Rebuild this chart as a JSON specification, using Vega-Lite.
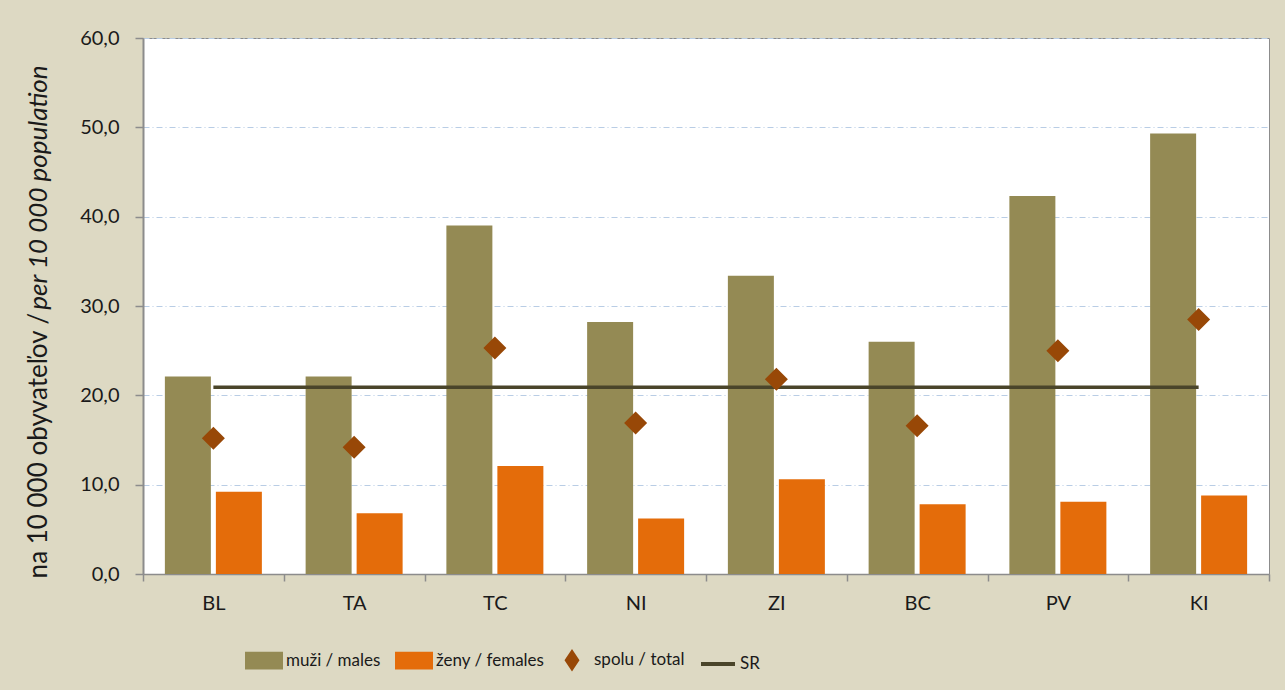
{
  "$schema": "https://vega.github.io/schema/vega-lite/v6.json",
  "width": 1126,
  "height": 536,
  "autosize": {"type": "none"},
  "padding": {"left": 143, "top": 38, "right": 16, "bottom": 116},
  "background": "#DDD9C3",
  "config": {
    "font": "Lato",
    "view": {"fill": "#FFFFFF", "stroke": "#8C8C8C", "strokeWidth": 1}
  },
  "resolve": {"axis": {"y": "independent"}},
  "data": {
    "values": [
      {"region": "BL", "series": "muži / males", "value": 22.1},
      {"region": "TA", "series": "muži / males", "value": 22.1},
      {"region": "TC", "series": "muži / males", "value": 39.0},
      {"region": "NI", "series": "muži / males", "value": 28.2},
      {"region": "ZI", "series": "muži / males", "value": 33.4},
      {"region": "BC", "series": "muži / males", "value": 26.0},
      {"region": "PV", "series": "muži / males", "value": 42.3},
      {"region": "KI", "series": "muži / males", "value": 49.3},
      {"region": "BL", "series": "ženy / females", "value": 9.2},
      {"region": "TA", "series": "ženy / females", "value": 6.8},
      {"region": "TC", "series": "ženy / females", "value": 12.1},
      {"region": "NI", "series": "ženy / females", "value": 6.2},
      {"region": "ZI", "series": "ženy / females", "value": 10.6},
      {"region": "BC", "series": "ženy / females", "value": 7.8},
      {"region": "PV", "series": "ženy / females", "value": 8.1},
      {"region": "KI", "series": "ženy / females", "value": 8.8},
      {"region": "BL", "series": "spolu / total", "value": 15.2},
      {"region": "TA", "series": "spolu / total", "value": 14.2},
      {"region": "TC", "series": "spolu / total", "value": 25.3},
      {"region": "NI", "series": "spolu / total", "value": 16.9},
      {"region": "ZI", "series": "spolu / total", "value": 21.8},
      {"region": "BC", "series": "spolu / total", "value": 16.6},
      {"region": "PV", "series": "spolu / total", "value": 25.0},
      {"region": "KI", "series": "spolu / total", "value": 28.5},
      {"region": "BL", "series": "SR", "value": 20.9},
      {"region": "TA", "series": "SR", "value": 20.9},
      {"region": "TC", "series": "SR", "value": 20.9},
      {"region": "NI", "series": "SR", "value": 20.9},
      {"region": "ZI", "series": "SR", "value": 20.9},
      {"region": "BC", "series": "SR", "value": 20.9},
      {"region": "PV", "series": "SR", "value": 20.9},
      {"region": "KI", "series": "SR", "value": 20.9}
    ]
  },
  "encoding": {
    "x": {
      "field": "region",
      "type": "nominal",
      "sort": ["BL", "TA", "TC", "NI", "ZI", "BC", "PV", "KI"],
      "scale": {"paddingInner": 0, "paddingOuter": 0},
      "axis": {
        "title": null,
        "labelAngle": 0,
        "labelFontSize": 20,
        "labelColor": "#1A1A1A",
        "labelPadding": 12,
        "tickBand": "extent",
        "tickSize": 7,
        "tickColor": "#8C8C8C",
        "tickWidth": 1.5,
        "domainColor": "#8C8C8C",
        "domainWidth": 1.5,
        "grid": false
      }
    },
    "color": {
      "field": "series",
      "type": "nominal",
      "scale": {
        "domain": ["muži / males", "ženy / females", "spolu / total", "SR"],
        "range": ["#948A54", "#E46C0A", "#984807", "#4A452A"]
      },
      "legend": {
        "orient": "none",
        "legendX": 102,
        "legendY": 603,
        "direction": "horizontal",
        "title": null,
        "symbolSize": 1156,
        "labelFontSize": 17,
        "labelColor": "#1A1A1A",
        "labelOffset": 3,
        "columnPadding": 8,
        "encode": {
          "symbols": {
            "update": {
              "shape": {"signal": "datum.value === 'spolu / total' ? 'M0,-0.45L0.3,0L0,0.45L-0.3,0Z' : datum.value === 'SR' ? 'M-1,0L1,0' : 'M-1,-0.4H1V0.4H-1Z'"},
              "fill": {"signal": "datum.value === 'muži / males' ? '#948A54' : datum.value === 'ženy / females' ? '#E46C0A' : datum.value === 'spolu / total' ? '#984807' : 'transparent'"},
              "stroke": {"signal": "datum.value === 'SR' ? '#4A452A' : 'transparent'"},
              "strokeWidth": {"value": 4},
              "opacity": {"value": 1}
            }
          }
        }
      }
    }
  },
  "layer": [
    {
      "transform": [{"filter": "datum.series === 'muži / males' || datum.series === 'ženy / females'"}],
      "mark": {"type": "bar"},
      "encoding": {
        "y": {
          "field": "value",
          "type": "quantitative",
          "scale": {"domain": [0, 60], "nice": false},
          "axis": {
            "orient": "left",
            "title": "na 10 000 obyvateľov /",
            "titleFontSize": 26,
            "titleFontWeight": "normal",
            "titleColor": "#1A1A1A",
            "titleBaseline": "alphabetic",
            "titleAlign": "center",
            "titleX": -97,
            "titleY": 407,
            "values": [0, 10, 20, 30, 40, 50, 60],
            "labelExpr": "replace(format(datum.value, '.1f'), '.', ',')",
            "labelFontSize": 20,
            "labelColor": "#1A1A1A",
            "labelPadding": 16,
            "tickSize": 8,
            "tickColor": "#8C8C8C",
            "tickWidth": 1.5,
            "domainColor": "#8C8C8C",
            "domainWidth": 2,
            "gridColor": "#B9CDE5",
            "gridDash": [6, 3, 1, 3],
            "gridWidth": 1
          }
        },
        "xOffset": {
          "field": "series",
          "type": "nominal",
          "sort": ["muži / males", "ženy / females"],
          "scale": {"paddingInner": 0.098, "paddingOuter": 0.429}
        }
      }
    },
    {
      "transform": [{"filter": "datum.series === 'SR'"}],
      "mark": {"type": "line", "strokeWidth": 3.5},
      "encoding": {
        "y": {
          "field": "value",
          "type": "quantitative",
          "scale": {"domain": [0, 60], "nice": false},
          "axis": {
            "orient": "left",
            "title": "per 10 000 population",
            "titleFontSize": 26,
            "titleFontWeight": "normal",
            "titleFontStyle": "italic",
            "titleColor": "#1A1A1A",
            "titleBaseline": "alphabetic",
            "titleAlign": "center",
            "titleX": -97,
            "titleY": 149,
            "labels": false,
            "ticks": false,
            "domain": false,
            "grid": false
          }
        }
      }
    },
    {
      "transform": [{"filter": "datum.series === 'spolu / total'"}],
      "mark": {"type": "point", "shape": "diamond", "filled": true, "size": 530, "opacity": 1},
      "encoding": {
        "y": {"field": "value", "type": "quantitative", "scale": {"domain": [0, 60], "nice": false}, "axis": null}
      }
    }
  ]
}
